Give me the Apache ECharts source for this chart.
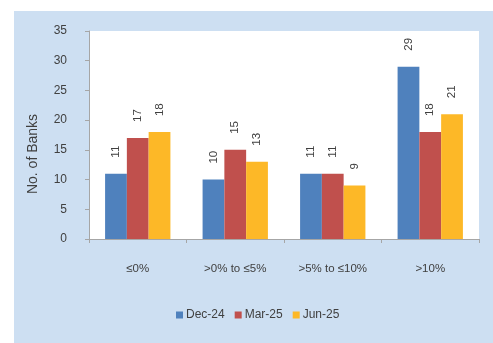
<!DOCTYPE html>
<html><head><meta charset="utf-8">
<script src="https://cdn.jsdelivr.net/npm/echarts@6/dist/echarts.min.js"></script>
<style>html,body{margin:0;padding:0;background:#fff}#c{width:493px;height:343px}</style>
</head><body><div id="c"></div>
<script>
var categories = ['≤0%', '>0% to ≤5%', '>5% to ≤10%', '>10%'];
var seriesNames = ['Dec-24', 'Mar-25', 'Jun-25'];
var dec24 = [11, 10, 11, 29];
var mar25 = [17, 15, 11, 18];
var jun25 = [18, 13, 9, 21];
var colors = ['#4f81bd', '#c0504d', '#fdb827'];
var font = 'Liberation Sans';
var chart = echarts.init(document.getElementById('c'), null, {renderer: 'canvas'});
function mk(name, data, color) {
  return {
    name: name, type: 'bar', data: data, barGap: '0%', barCategoryGap: '33%',
    itemStyle: {color: color},
    label: {show: true, position: 'top', rotate: 90, distance: 16, align: 'left', verticalAlign: 'middle',
      color: '#404040', fontSize: 11.5, fontFamily: font}
  };
}
chart.setOption({
  animation: false,
  graphic: [{type: 'rect', z: -10, shape: {x: 14, y: 11, width: 479, height: 332}, style: {fill: '#cddff2'}}],
  grid: {left: 89, right: 14, top: 31, bottom: 104, show: true, backgroundColor: '#ffffff', borderWidth: 0},
  legend: {bottom: 17, left: 171, itemWidth: 7, itemHeight: 7, itemGap: 10, icon: 'rect',
    textStyle: {fontSize: 12, color: '#404040', fontFamily: font, padding: [0, 0, 0, -2]},
    data: seriesNames},
  xAxis: {type: 'category', data: categories,
    axisLine: {lineStyle: {color: '#a6a6a6', width: 1}},
    axisTick: {show: true, length: 4, lineStyle: {color: '#a6a6a6'}},
    axisLabel: {margin: 24, fontSize: 11.5, color: '#404040', fontFamily: font}},
  yAxis: {type: 'value', min: 0, max: 35, interval: 5, name: 'No. of Banks', nameLocation: 'middle', nameGap: 49,
    nameTextStyle: {fontSize: 14, color: '#404040', fontFamily: font, padding: [0, 38, 0, 0]},
    splitLine: {show: false},
    axisLine: {show: true, lineStyle: {color: '#a6a6a6', width: 1}},
    axisTick: {show: true, length: 4, lineStyle: {color: '#a6a6a6'}},
    axisLabel: {margin: 22, fontSize: 12, color: '#404040', fontFamily: font}},
  series: [mk(seriesNames[0], dec24, colors[0]), mk(seriesNames[1], mar25, colors[1]), mk(seriesNames[2], jun25, colors[2])]
});
</script></body></html>
